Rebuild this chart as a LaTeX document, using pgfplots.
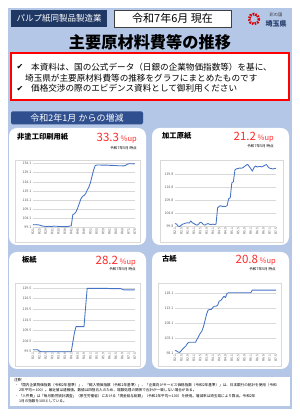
\documentclass[border=0pt]{standalone}
\usepackage{pgfplots}
\pgfplotsset{compat=1.18}
\usepackage{fontspec}
\setmainfont{Noto Sans CJK JP}
\newfontfamily\dejavu{DejaVu Sans}
\definecolor{bgblue}{HTML}{B4C7E7}
\definecolor{navy}{HTML}{203864}
\definecolor{banner}{HTML}{2F4F8F}
\definecolor{lineblue}{HTML}{4472C4}
\definecolor{redtxt}{HTML}{FF2B2B}
\definecolor{gridc}{HTML}{D9D9D9}
\definecolor{tickc}{HTML}{595959}
\newcommand{\fs}[1]{\fontsize{#1bp}{#1bp}\selectfont}
\pgfplotsset{minichart/.style={
  scale only axis, width=102bp,
  xmin=0, xmax=64, clip=false, no markers,
  axis line style={draw=none}, tick style={draw=none},
  ymajorgrids, grid style={gridc, line width=0.5},
  xtick={0,4,...,64},
  xticklabels={R2.1,R2.5,R2.9,R3.1,R3.5,R3.9,R4.1,R4.5,R4.9,R5.1,R5.5,R5.9,R6.1,R6.5,R6.9,R7.1,R7.5},
  xticklabel style={rotate=90, anchor=east, font=\fs{3.3}, text=tickc, inner sep=1bp},
  yticklabel style={font=\fs{3.5}, text=tickc, inner sep=1.5bp,
    /pgf/number format/fixed, /pgf/number format/fixed zerofill, /pgf/number format/precision=1},
  /pgf/number format/assume math mode=true,
}}
\tikzset{ser/.style={draw=lineblue, line width=0.85bp, line join=round, mark=none}}
\begin{document}
\begin{tikzpicture}
\path[use as bounding box] (0,0) rectangle (300bp,417bp);
\begin{scope}[x=1bp, yshift=417bp, y=-1bp]
\fill[white] (0,0) rectangle (300,417);
\fill[bgblue] (8,8) rectangle (292,409);
% header
\fill[navy] (11,10) rectangle (107,27);
\node[text=white, font=\fs{8.5}] at (59,18.5) {パルプ紙同製品製造業};
\draw[fill=white, draw=black!75, line width=0.6bp] (114,10) rectangle (231,27);
\node[font=\fs{11}] at (172.5,18.5) {令和7年6月 現在};
\draw[red!85!black, line width=2.6bp, dash pattern=on 1.6bp off 1.1bp] (254,19) circle (5);
\node[font=\fs{4.3}, text=black!80] at (276,15) {彩の国};
\node[font=\bfseries\fs{7}, text=navy] at (276,23.5) {埼玉県};
\node[font=\bfseries\fs{16.2}] at (150,42) {主要原材料費等の推移};
% red box
\draw[red, line width=1.6bp, fill=white] (10.8,52.8) rectangle (289.2,100);
\node[font=\dejavu\fs{8}] at (20,67) {✔};
\node[anchor=west, inner sep=0, font=\fs{8.6}] at (31,67) {本資料は、国の公式データ（日銀の企業物価指数等）を基に、};
\node[anchor=west, inner sep=0, font=\fs{8.6}] at (25,78) {埼玉県が主要原材料費等の推移をグラフにまとめたものです};
\node[font=\dejavu\fs{8}] at (20,88.5) {✔};
\node[anchor=west, inner sep=0, font=\fs{8.6}] at (31,88.5) {価格交渉の際のエビデンス資料として御利用ください};
% banner
\fill[banner, rounded corners=1.5bp] (11,111.5) rectangle (143,124.5);
\node[text=white, font=\fs{9}] at (77,118) {令和2年1月 からの増減};
% panels
\fill[white, rounded corners=8bp] (9,128) rectangle (146,245);
\fill[white, rounded corners=8bp] (152,128) rectangle (289,245);
\fill[white, rounded corners=8bp] (9,252) rectangle (146,369);
\fill[white, rounded corners=8bp] (152,252) rectangle (289,369);
\draw[gridc, line width=0.5bp] (15,160) rectangle (140,242);
\draw[gridc, line width=0.5bp] (160,160) rectangle (283,242);
\draw[gridc, line width=0.5bp] (15,283) rectangle (140,366);
\draw[gridc, line width=0.5bp] (158,283) rectangle (281,366);
% panel titles
\node[anchor=west, inner sep=0, font=\bfseries\fs{7.3}] at (17,137) {非塗工印刷用紙};
\node[anchor=base east, inner sep=0, text=redtxt] at (137,142) {{\fs{11.5}33.3}\,{\fs{7.5}\%up}};
\node[anchor=east, inner sep=0, font=\fs{3.6}] at (137,148) {令和7年5月 時点};
\node[anchor=west, inner sep=0, font=\bfseries\fs{7.3}] at (162,136) {加工原紙};
\node[anchor=base east, inner sep=0, text=redtxt] at (274,141) {{\fs{11.5}21.2}\,{\fs{7.5}\%up}};
\node[anchor=east, inner sep=0, font=\fs{3.6}] at (274,146.5) {令和7年5月 時点};
\node[anchor=west, inner sep=0, font=\bfseries\fs{7.3}] at (22,259.5) {板紙};
\node[anchor=base east, inner sep=0, text=redtxt] at (136,265) {{\fs{11.5}28.2}\,{\fs{7.5}\%up}};
\node[anchor=east, inner sep=0, font=\fs{3.6}] at (136,269.5) {令和7年5月 時点};
\node[anchor=west, inner sep=0, font=\bfseries\fs{7.3}] at (162,258.5) {古紙};
\node[anchor=base east, inner sep=0, text=redtxt] at (276,264) {{\fs{11.5}20.8}\,{\fs{7.5}\%up}};
\node[anchor=east, inner sep=0, font=\fs{3.6}] at (276,269.5) {令和7年5月 時点};
% notes
\fill[white] (10,377) rectangle (290,406);
\node[anchor=west, inner sep=0, font=\fs{3.8}] at (14,380.5) {注釈};
\node[anchor=west, inner sep=0, font=\fs{3.6}] at (15,385.5) {・「国内企業物価指数（令和2年基準）」、「輸入物価指数（令和2年基準）」、「企業向けサービス価格指数（令和2年基準）」は、日本銀行の統計を使用（令和};
\node[anchor=west, inner sep=0, font=\fs{3.6}] at (19,390.5) {2年平均＝100）。最近値は速報値。数値は四捨五入のため、端数処理の関係で合計が一致しない場合がある。};
\node[anchor=west, inner sep=0, font=\fs{3.6}] at (15,396) {・「人件費」は「毎月勤労統計調査」（厚生労働省）における「現金給与総額」（令和2年平均＝100）を使用。増減率は埼玉県により算出。令和2年};
\node[anchor=west, inner sep=0, font=\fs{3.6}] at (19,401) {1月の指数を100としている。};
\end{scope}
% chart 1
\begin{axis}[minichart, at={(33bp,190bp)}, anchor=south west, height=63.3bp,
  ymin=99.1, ymax=134.1, ytick={99.1,104.1,109.1,114.1,119.1,124.1,129.1,134.1}]
\addplot[ser] coordinates {(0,100.4) (1,100.3) (2,100.4) (3,100.3) (4,100.2) (5,99.9) (6,99.6) (7,99.5) (8,99.4) (9,99.4) (10,99.5) (11,99.4) (12,99.4) (13,99.6) (14,99.5) (15,99.5) (16,99.4) (17,99.4) (18,99.4) (19,99.4) (20,99.3) (21,99.3) (22,99.4) (23,99.6) (24,99.7) (25,106.0) (26,106.4) (27,107.5) (28,109.5) (29,112.0) (30,114.5) (31,116.0) (32,116.5) (33,117.5) (34,119.5) (35,121.0) (36,123.5) (37,127.0) (38,130.5) (39,133.0) (40,133.4) (41,133.4) (42,133.4) (43,133.3) (44,133.3) (45,133.3) (46,133.3) (47,133.3) (48,133.2) (49,133.2) (50,133.2) (51,133.1) (52,133.1) (53,133.0) (54,133.0) (55,133.0) (56,132.9) (57,132.9) (58,133.1) (59,133.8) (60,134.0) (61,134.1) (62,134.1) (63,134.0) (64,134.1)};
\end{axis}
% chart 2
\begin{axis}[minichart, width=101bp, at={(175bp,190.3bp)}, anchor=south west, height=64.2bp,
  ymin=99.8, ymax=124.3, ytick={99.8,104.8,109.8,114.8,119.8}]
\addplot[ser] coordinates {(0,101.0) (1,100.8) (2,100.0) (3,99.9) (4,100.4) (5,100.8) (6,101.0) (7,101.2) (8,101.3) (9,101.2) (10,102.0) (11,101.3) (12,101.0) (13,100.6) (14,100.4) (15,100.8) (16,101.5) (17,101.3) (18,100.6) (19,100.4) (20,100.8) (21,101.0) (22,100.7) (23,100.6) (24,100.8) (25,100.6) (26,100.8) (27,107.0) (28,107.6) (29,107.8) (30,107.5) (31,107.6) (32,107.5) (33,107.8) (34,110.5) (35,110.8) (36,116.5) (37,117.0) (38,121.5) (39,121.9) (40,122.0) (41,122.2) (42,122.1) (43,122.3) (44,122.8) (45,123.2) (46,123.6) (47,122.8) (48,122.0) (49,121.0) (50,122.3) (51,123.0) (52,122.6) (53,122.7) (54,122.8) (55,122.6) (56,122.9) (57,123.3) (58,123.5) (59,122.6) (60,122.1) (61,122.0) (62,121.8) (63,122.0) (64,122.1)};
\end{axis}
% chart 3
\begin{axis}[minichart, at={(33bp,65.3bp)}, anchor=south west, height=63.7bp,
  ymin=99.5, ymax=129.5, ytick={99.5,104.5,109.5,114.5,119.5,124.5,129.5}]
\addplot[ser] coordinates {(0,100.4) (1,100.4) (2,100.4) (3,100.4) (4,99.8) (5,99.5) (6,99.5) (7,99.5) (8,99.5) (9,99.5) (10,99.5) (11,99.5) (12,99.5) (13,99.5) (14,99.5) (15,99.5) (16,99.5) (17,99.5) (18,99.5) (19,99.5) (20,99.5) (21,99.5) (22,99.5) (23,99.5) (24,99.5) (25,104.0) (26,108.5) (27,111.3) (28,111.3) (29,111.3) (30,111.3) (31,111.3) (32,111.3) (33,120.5) (34,129.3) (35,129.3) (36,129.3) (37,129.3) (38,129.3) (39,129.3) (40,129.3) (41,129.3) (42,129.3) (43,129.3) (44,129.3) (45,129.3) (46,129.3) (47,129.3) (48,129.2) (49,129.2) (50,129.2) (51,129.2) (52,129.2) (53,129.2) (54,129.2) (55,129.2) (56,128.9) (57,128.6) (58,128.6) (59,128.6) (60,128.6) (61,128.6) (62,128.6) (63,128.6) (64,128.7)};
\end{axis}
% chart 4
\begin{axis}[minichart, width=101bp, at={(175bp,63.7bp)}, anchor=south west, height=65.6bp,
  ymin=98.1, ymax=120.1, ytick={98.1,103.1,108.1,113.1,118.1}]
\addplot[ser] coordinates {(0,99.0) (1,98.9) (2,98.5) (3,98.4) (4,99.0) (5,99.6) (6,100.1) (7,100.6) (8,101.5) (9,101.8) (10,101.8) (11,101.8) (12,101.8) (13,101.8) (14,102.8) (15,103.8) (16,104.8) (17,105.5) (18,107.0) (19,109.0) (20,111.2) (21,112.6) (22,112.8) (23,112.8) (24,113.5) (25,113.9) (26,113.9) (27,114.2) (28,115.6) (29,115.8) (30,116.5) (31,117.2) (32,116.8) (33,118.2) (34,118.4) (35,118.4) (36,118.4) (37,118.4) (38,118.4) (39,118.4) (40,118.4) (41,118.4) (42,118.4) (43,118.4) (44,118.4) (45,118.4) (46,118.4) (47,118.4) (48,118.4) (49,119.3) (50,119.3) (51,119.3) (52,119.3) (53,119.3) (54,119.3) (55,119.3) (56,119.3) (57,119.3) (58,119.3) (59,119.3) (60,119.3) (61,119.3) (62,119.3) (63,119.3) (64,119.3)};
\end{axis}
\end{tikzpicture}
\end{document}
